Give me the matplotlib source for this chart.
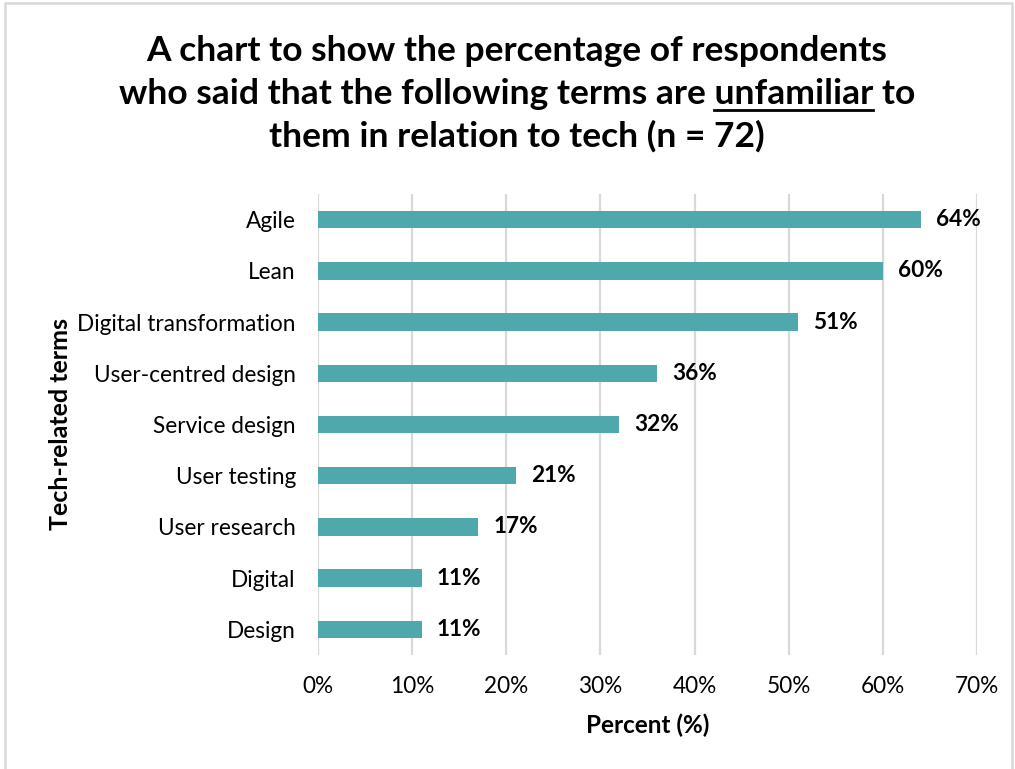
import matplotlib
matplotlib.use("Agg")
import matplotlib.pyplot as plt
from matplotlib.patches import Rectangle
from matplotlib.lines import Line2D

plt.rcParams['font.family'] = ['Lato', 'DejaVu Sans']

terms = ["Agile", "Lean", "Digital transformation", "User-centred design",
         "Service design", "User testing", "User research", "Digital", "Design"]
percent = [64, 60, 51, 36, 32, 21, 17, 11, 11]
x_ticks = [0, 10, 20, 30, 40, 50, 60, 70]

bar_color = "#4EA8AC"
grid_color = "#D9D9D9"

W, H = 1015, 769
fig = plt.figure(figsize=(W / 100, H / 100), dpi=100)
ax = fig.add_axes([318 / W, 1 - 655 / H, (977 - 318) / W, (655 - 194) / H])

ypos = list(range(len(terms)))
ax.barh(ypos, percent, height=0.34, color=bar_color, zorder=3)
ax.set_ylim(len(terms) - 0.5, -0.5)
ax.set_xlim(0, 70)
ax.set_yticks(ypos)
ax.set_yticklabels(terms)
ax.set_xticks(x_ticks)
ax.set_xticklabels([f"{t}%" for t in x_ticks])
ax.tick_params(axis='y', length=0, pad=16, labelsize=16.3, labelcolor='black')
ax.tick_params(axis='x', length=0, pad=15, labelsize=16.3, labelcolor='black')
ax.grid(axis='x', color=grid_color, linewidth=1.6, zorder=0)
for s in ax.spines.values():
    s.set_visible(False)

for y, v in zip(ypos, percent):
    ax.annotate(f"{v}%", xy=(v, y), xytext=(11, 0), textcoords='offset points',
                ha='left', va='center', fontsize=16.3, fontweight='bold', color='black')

ax.set_xlabel("Percent (%)", fontsize=17.5, fontweight='bold', labelpad=12)
fig.text(60 / W, 1 - 424 / H, "Tech-related terms", rotation=90, ha='center',
         va='center', fontsize=18, fontweight='bold')

# Title, with the key word underlined
title_lines = ["A chart to show the percentage of respondents",
               "who said that the following terms are unfamiliar to",
               "them in relation to tech (n = 72)"]
title_baselines = [61, 104, 147]
title_kw = dict(ha='center', va='baseline', fontsize=25.5, fontweight='bold', color='black')
cx = 517 / W
texts = [fig.text(cx, 1 - y / H, line, **title_kw)
         for line, y in zip(title_lines, title_baselines)]

fig.canvas.draw()
renderer = fig.canvas.get_renderer()


def text_width(s):
    t = fig.text(0, 0, s, **title_kw)
    w = t.get_window_extent(renderer).width
    t.remove()
    return w


bb = texts[1].get_window_extent(renderer)
upto = "who said that the following terms are unfamiliar"
x_end = bb.x0 + text_width(upto)
x_start = x_end - text_width("unfamiliar")
y_line = H - title_baselines[1] - 6
fig.add_artist(Line2D([x_start / W, x_end / W], [y_line / H, y_line / H],
                      color='black', linewidth=2.0, transform=fig.transFigure))

# Light frame around the chart area
fig.add_artist(Rectangle((5 / W, -0.05), (1012 - 5) / W, 1.05 - 3 / H,
                         fill=False, edgecolor=grid_color, linewidth=1.8,
                         transform=fig.transFigure))

fig.savefig("out.png", dpi=100, facecolor='white')
